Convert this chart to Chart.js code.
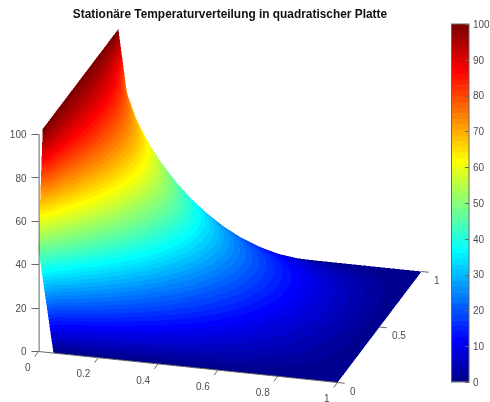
<!DOCTYPE html>
<html>
<head>
<meta charset="utf-8">
<title>Stationäre Temperaturverteilung</title>
<script src="https://cdn.jsdelivr.net/npm/chart.js@4"></script>
<style>
  html, body { margin: 0; padding: 0; background: #fff; }
  #wrap { position: relative; width: 490px; height: 402px; overflow: hidden; }
  #surfaceChart { position: absolute; left: 0; top: 0; }
  #barChart { position: absolute; left: 440px; top: 0; }
</style>
</head>
<body>
<div id="wrap">
  <canvas id="surfaceChart" width="460" height="402"></canvas>
  <canvas id="barChart" width="50" height="402"></canvas>
</div>
<script>
// Temperature, columns follow plateX, rows follow plateY
const plateX = [0, 0.05, 0.1, 0.15, 0.2, 0.25, 0.3, 0.35, 0.4, 0.45, 0.5, 0.55, 0.6, 0.65, 0.7, 0.75, 0.8, 0.9, 1];
const plateY = [0, 0.05, 0.1, 0.15, 0.2, 0.25, 0.3, 0.35, 0.4, 0.45, 0.5,
                0.55, 0.6, 0.65, 0.7, 0.75, 0.8, 0.85, 0.9, 0.95, 1];
const temps = [
  [47, 0, 0, 0, 0, 0, 0, 0, 0, 0, 0, 0, 0, 0, 0, 0, 0, 0, 0],
  [100, 49.7, 29.0, 19.7, 14.5, 11.3, 9.0, 7.3, 6.0, 5.0, 4.2, 3.5, 2.9, 2.3, 1.9, 1.5, 1.2, 0.6, 0],
  [100, 69.9, 48.9, 35.8, 27.4, 21.6, 17.5, 14.3, 11.8, 9.8, 8.2, 6.8, 5.6, 4.6, 3.8, 3.0, 2.3, 1.1, 0],
  [100, 78.7, 60.9, 47.5, 37.7, 30.5, 24.9, 20.6, 17.1, 14.3, 11.9, 9.9, 8.2, 6.8, 5.5, 4.4, 3.4, 1.6, 0],
  [100, 83.3, 68.2, 55.7, 45.6, 37.6, 31.2, 26.0, 21.8, 18.2, 15.3, 12.8, 10.6, 8.7, 7.1, 5.7, 4.4, 2.1, 0],
  [100, 86.0, 72.9, 61.3, 51.5, 43.2, 36.3, 30.6, 25.7, 21.7, 18.2, 15.2, 12.7, 10.5, 8.5, 6.8, 5.2, 2.5, 0],
  [100, 87.7, 75.9, 65.2, 55.7, 47.4, 40.3, 34.2, 29.0, 24.5, 20.6, 17.3, 14.4, 11.9, 9.7, 7.8, 6.0, 2.9, 0],
  [100, 88.8, 78.0, 67.8, 58.6, 50.4, 43.2, 36.9, 31.4, 26.7, 22.5, 19.0, 15.8, 13.1, 10.7, 8.5, 6.6, 3.1, 0],
  [100, 89.5, 79.2, 69.6, 60.6, 52.5, 45.2, 38.8, 33.2, 28.2, 23.9, 20.1, 16.8, 13.9, 11.4, 9.1, 7.0, 3.4, 0],
  [100, 89.8, 79.9, 70.5, 61.7, 53.7, 46.4, 39.9, 34.2, 29.1, 24.7, 20.9, 17.4, 14.5, 11.8, 9.4, 7.3, 3.5, 0],
  [100, 90.0, 80.2, 70.8, 62.1, 54.1, 46.8, 40.3, 34.5, 29.5, 25.0, 21.1, 17.7, 14.6, 11.9, 9.5, 7.4, 3.5, 0],
  [100, 89.8, 79.9, 70.5, 61.7, 53.7, 46.4, 39.9, 34.2, 29.1, 24.7, 20.9, 17.4, 14.5, 11.8, 9.4, 7.3, 3.5, 0],
  [100, 89.5, 79.2, 69.6, 60.6, 52.5, 45.2, 38.8, 33.2, 28.2, 23.9, 20.1, 16.8, 13.9, 11.4, 9.1, 7.0, 3.4, 0],
  [100, 88.8, 78.0, 67.8, 58.6, 50.4, 43.2, 36.9, 31.4, 26.7, 22.5, 19.0, 15.8, 13.1, 10.7, 8.5, 6.6, 3.1, 0],
  [100, 87.7, 75.9, 65.2, 55.7, 47.4, 40.3, 34.2, 29.0, 24.5, 20.6, 17.3, 14.4, 11.9, 9.7, 7.8, 6.0, 2.9, 0],
  [100, 86.0, 72.9, 61.3, 51.5, 43.2, 36.3, 30.6, 25.7, 21.7, 18.2, 15.2, 12.7, 10.5, 8.5, 6.8, 5.2, 2.5, 0],
  [100, 83.3, 68.2, 55.7, 45.6, 37.6, 31.2, 26.0, 21.8, 18.2, 15.3, 12.8, 10.6, 8.7, 7.1, 5.7, 4.4, 2.1, 0],
  [100, 78.7, 60.9, 47.5, 37.7, 30.5, 24.9, 20.6, 17.1, 14.3, 11.9, 9.9, 8.2, 6.8, 5.5, 4.4, 3.4, 1.6, 0],
  [100, 69.9, 48.9, 35.8, 27.4, 21.6, 17.5, 14.3, 11.8, 9.8, 8.2, 6.8, 5.6, 4.6, 3.8, 3.0, 2.3, 1.1, 0],
  [100, 49.7, 29.0, 19.7, 14.5, 11.3, 9.0, 7.3, 6.0, 5.0, 4.2, 3.5, 2.9, 2.3, 1.9, 1.5, 1.2, 0.6, 0],
  [47, 0, 0, 0, 0, 0, 0, 0, 0, 0, 0, 0, 0, 0, 0, 0, 0, 0, 0]
];

// Tick labels
const xTicks = [0, 0.2, 0.4, 0.6, 0.8, 1];
const yTicks = [0, 0.5, 1];
const zTicks = [0, 20, 40, 60, 80, 100];
const barTicks = [0, 10, 20, 30, 40, 50, 60, 70, 80, 90, 100];
const titleText = 'Stationäre Temperaturverteilung in quadratischer Platte';

const LEVELS = 64;
const SUPERSAMPLE = 2;
const FONT = '"Liberation Sans", Arial, sans-serif';
const TEXT_COLOR = '#4d4d4d';
const AXIS_COLOR = '#666';

// MATLAB jet, 64 levels
function jetRgb(level) {
    const t = (level + 1) / LEVELS;
    const c = v => Math.round(255 * Math.min(1, Math.max(0, 1.5 - Math.abs(4 * t - v))));
    return [c(3), c(2), c(1)];
}
const jetTable = [];
for (let k = 0; k < LEVELS; k++) jetTable.push(jetRgb(k));

// View of the plate: plate y and z shift the horizontal/vertical scale values
function project(x, y, z) {
    return { x: x + 0.281 * y, y: z - 14.29 * x + 51.15 * y };
}

function fillTriangle(img, a, b, c) {
    const w = img.width, h = img.height, px = img.data;
    const den = (b.py - c.py) * (a.px - c.px) + (c.px - b.px) * (a.py - c.py);
    if (Math.abs(den) < 1e-9) return;
    const x0 = Math.max(0, Math.floor(Math.min(a.px, b.px, c.px)));
    const x1 = Math.min(w - 1, Math.ceil(Math.max(a.px, b.px, c.px)));
    const y0 = Math.max(0, Math.floor(Math.min(a.py, b.py, c.py)));
    const y1 = Math.min(h - 1, Math.ceil(Math.max(a.py, b.py, c.py)));
    for (let yy = y0; yy <= y1; yy++) {
        for (let xx = x0; xx <= x1; xx++) {
            const l1 = ((b.py - c.py) * (xx + 0.5 - c.px) + (c.px - b.px) * (yy + 0.5 - c.py)) / den;
            const l2 = ((c.py - a.py) * (xx + 0.5 - c.px) + (a.px - c.px) * (yy + 0.5 - c.py)) / den;
            const l3 = 1 - l1 - l2;
            if (l1 < -1e-6 || l2 < -1e-6 || l3 < -1e-6) continue;
            const t = l1 * a.t + l2 * b.t + l3 * c.t;
            const rgb = jetTable[Math.min(LEVELS - 1, Math.floor(t / 100 * LEVELS))];
            const o = (yy * w + xx) * 4;
            px[o] = rgb[0]; px[o + 1] = rgb[1]; px[o + 2] = rgb[2]; px[o + 3] = 255;
        }
    }
}

// Draws the surface back to front through the chart's scales, on a finer
// buffer so the colour bands have no seams
const surfacePlugin = {
    id: 'surface',
    beforeDatasetsDraw(chart) {
        const { ctx, scales } = chart;
        const off = document.createElement('canvas');
        off.width = chart.width * SUPERSAMPLE;
        off.height = chart.height * SUPERSAMPLE;
        const offCtx = off.getContext('2d');
        const img = offCtx.createImageData(off.width, off.height);
        const vertex = (i, j) => {
            const p = project(plateX[i], plateY[j], temps[j][i]);
            return {
                px: scales.x.getPixelForValue(p.x) * SUPERSAMPLE,
                py: scales.y.getPixelForValue(p.y) * SUPERSAMPLE,
                t: temps[j][i]
            };
        };
        for (let j = plateY.length - 2; j >= 0; j--) {
            for (let i = 0; i < plateX.length - 1; i++) {
                const a = vertex(i, j), b = vertex(i + 1, j);
                const c = vertex(i + 1, j + 1), d = vertex(i, j + 1);
                fillTriangle(img, a, c, d);
                fillTriangle(img, a, b, c);
            }
        }
        offCtx.putImageData(img, 0, 0);
        ctx.save();
        ctx.imageSmoothingEnabled = true;
        ctx.imageSmoothingQuality = 'high';
        ctx.drawImage(off, 0, 0, chart.width, chart.height);
        ctx.restore();
    }
};

// Tick labels of the vertical axis and the two ground axes
const axisLabels = {
    id: 'axisLabels',
    afterDraw(chart) {
        const { ctx, scales } = chart;
        const pixel = (x, y) => {
            const p = project(x, y, 0);
            return [scales.x.getPixelForValue(p.x), scales.y.getPixelForValue(p.y)];
        };
        ctx.save();
        ctx.font = '10px ' + FONT;
        ctx.fillStyle = TEXT_COLOR;
        ctx.textBaseline = 'middle';
        ctx.textAlign = 'right';
        zTicks.forEach(v => {
            ctx.fillText(String(v), 26.5, scales.y.getPixelForValue(v) + 1);
        });
        xTicks.forEach(v => {
            const [px, py] = pixel(v, 0);
            ctx.fillText(String(v), px - 8, py + 17);
        });
        ctx.textAlign = 'left';
        yTicks.forEach(v => {
            const [px, py] = pixel(1, v);
            ctx.fillText(String(v), px + 12.5, py + 9.7);
        });
        ctx.restore();
    }
};

function tickSegments(list, from, to) {
    const pts = [];
    list.forEach(v => {
        pts.push(project(...from(v)), project(...to(v)), { x: null, y: null });
    });
    return pts;
}

function axisDataset(data) {
    return {
        data,
        showLine: true,
        spanGaps: false,
        pointRadius: 0,
        borderColor: AXIS_COLOR,
        borderWidth: 1,
        clip: false
    };
}

new Chart(document.getElementById('surfaceChart').getContext('2d'), {
    type: 'scatter',
    data: {
        datasets: [
            axisDataset([project(0, 0, 0), project(1, 0, 0)]),
            axisDataset([{ x: 0.002, y: 0 }, { x: 0.002, y: 100 }]),
            axisDataset(tickSegments(xTicks, v => [v, 0, 0], v => [v, -0.045, 0])),
            axisDataset(tickSegments(yTicks, v => [1, v, 0], v => [1.024, v, 0]))
        ]
    },
    options: {
        responsive: false,
        animation: false,
        layout: { padding: { bottom: 10 } },
        plugins: {
            legend: { display: false },
            tooltip: { enabled: false },
            title: {
                display: true,
                text: titleText,
                color: '#111',
                font: { family: FONT, size: 11.9, weight: 'bold', lineHeight: 1.2 },
                padding: { top: 8, bottom: 1.72 }
            }
        },
        scales: {
            x: {
                type: 'linear',
                display: false,
                min: 0,
                max: 1.4097
            },
            y: {
                type: 'linear',
                position: 'left',
                min: -18.66,
                max: 150.92,
                afterFit(scale) { scale.width = 38.5; },
                afterBuildTicks(scale) { scale.ticks = zTicks.map(v => ({ value: v })); },
                border: { display: false },
                grid: { drawOnChartArea: false, tickLength: 7, color: AXIS_COLOR, tickColor: AXIS_COLOR },
                ticks: { display: false }
            }
        }
    },
    plugins: [surfacePlugin, axisLabels]
});

// Colour bar: one stacked bar per colormap level
const barDatasets = [];
for (let k = 0; k < LEVELS; k++) {
    barDatasets.push({
        data: [100 / LEVELS],
        backgroundColor: 'rgb(' + jetTable[k].join(',') + ')',
        borderWidth: 0,
        barPercentage: 1,
        categoryPercentage: 1
    });
}

const barFrame = {
    id: 'barFrame',
    afterDraw(chart) {
        const { ctx, chartArea: a, scales } = chart;
        ctx.save();
        ctx.strokeStyle = AXIS_COLOR;
        ctx.lineWidth = 1;
        ctx.strokeRect(a.left, a.top, a.right - a.left, a.bottom - a.top);
        ctx.beginPath();
        barTicks.forEach(v => {
            const py = Math.round(scales.y.getPixelForValue(v)) + 0.5;
            ctx.moveTo(a.right - 4, py);
            ctx.lineTo(a.right, py);
        });
        ctx.stroke();
        ctx.font = '10px ' + FONT;
        ctx.fillStyle = TEXT_COLOR;
        ctx.textBaseline = 'middle';
        ctx.textAlign = 'left';
        barTicks.forEach(v => {
            ctx.fillText(String(v), a.right + 4, scales.y.getPixelForValue(v) + 1);
        });
        ctx.restore();
    }
};

new Chart(document.getElementById('barChart').getContext('2d'), {
    type: 'bar',
    data: { labels: [''], datasets: barDatasets },
    options: {
        responsive: false,
        animation: false,
        layout: { padding: { left: 11.5, top: 24, bottom: 20 } },
        plugins: { legend: { display: false }, tooltip: { enabled: false } },
        scales: {
            x: { stacked: true, display: false },
            y: {
                stacked: true,
                position: 'right',
                min: 0,
                max: 100,
                afterFit(scale) { scale.width = 21; },
                afterBuildTicks(scale) { scale.ticks = barTicks.map(v => ({ value: v })); },
                border: { display: false },
                grid: { drawOnChartArea: false, drawTicks: false },
                ticks: { display: false }
            }
        }
    },
    plugins: [barFrame]
});
</script>
</body>
</html>
